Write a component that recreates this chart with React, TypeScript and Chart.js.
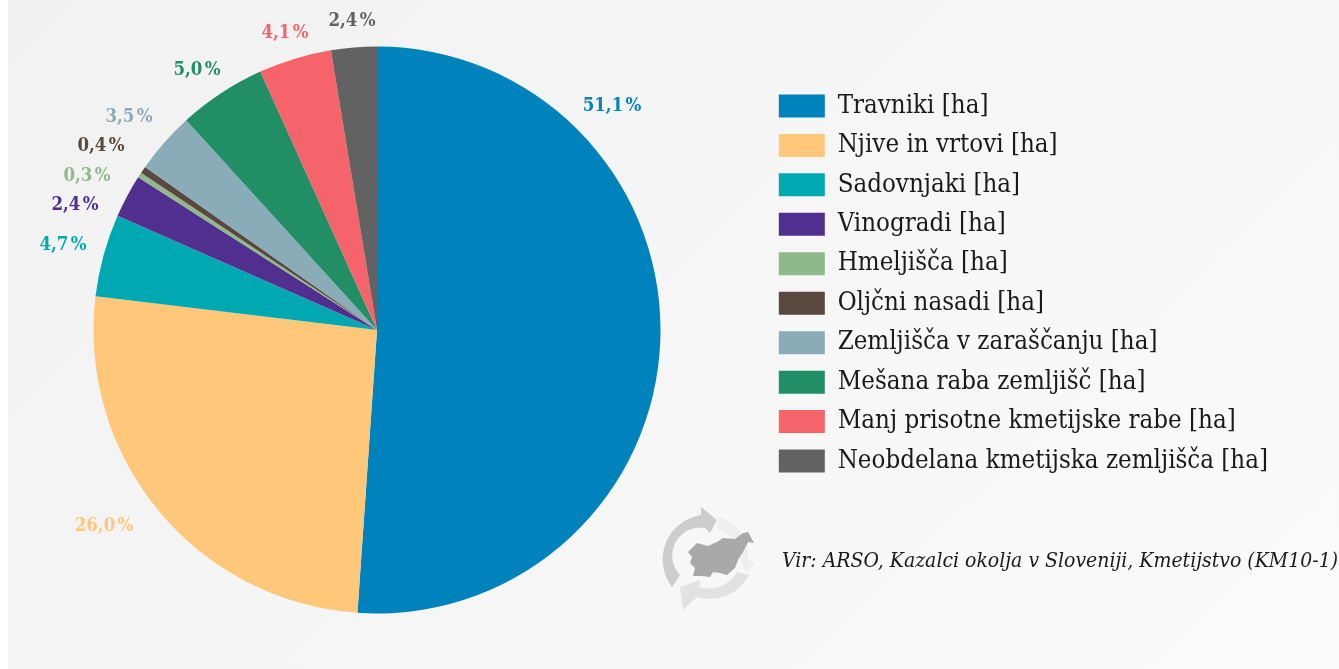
import React, { useEffect, useRef } from "react";
import { Chart, registerables } from "chart.js";

Chart.register(...registerables);

const categories = [
  "Travniki [ha]",
  "Njive in vrtovi [ha]",
  "Sadovnjaki [ha]",
  "Vinogradi [ha]",
  "Hmeljišča [ha]",
  "Oljčni nasadi [ha]",
  "Zemljišča v zaraščanju [ha]",
  "Mešana raba zemljišč [ha]",
  "Manj prisotne kmetijske rabe [ha]",
  "Neobdelana kmetijska zemljišča [ha]",
];
const shares = [51.1, 25.8, 4.7, 2.45, 0.3, 0.4, 3.5, 5.0, 4.15, 2.6];
const shareLabels = ["51,1 %", "26,0 %", "4,7 %", "2,4 %", "0,3 %", "0,4 %", "3,5 %", "5,0 %", "4,1 %", "2,4 %"];
const colors = ["#0082bd", "#fec779", "#00a9b2", "#512f8f", "#8fb98a", "#5a473d", "#8aabb8", "#218e66", "#f5636b", "#626262"];
const labelAnchors = [
  [612, 106], [104, 526], [63, 245], [75, 205], [87, 176],
  [101, 146], [129, 117], [197, 70], [285, 33], [352, 21],
];

const sourceText = "Vir: ARSO, Kazalci okolja v Sloveniji, Kmetijstvo (KM10-1)";

const canvasShift = 11;

const labelPlugin = {
  id: "shareLabels",
  afterDatasetsDraw(chart: any) {
    const ctx = chart.ctx;
    ctx.save();
    ctx.translate(canvasShift, 0);
    ctx.font = 'bold 18.5px "DejaVu Serif Condensed"';
    ctx.wordSpacing = "-3.5px";
    ctx.textAlign = "center";
    ctx.textBaseline = "middle";
    shareLabels.forEach((t, i) => {
      ctx.fillStyle = colors[i];
      ctx.fillText(t, labelAnchors[i][0], labelAnchors[i][1]);
    });
    ctx.restore();
  },
};

function Logo() {
  return (
    <svg
      width={110}
      height={120}
      viewBox="0 0 110 120"
      style={{ position: "absolute", left: 655, top: 500 }}
    >
      <path d="M17 87 A45 45 0 0 1 46 15 L46 7 L62 20 L55 33 L50 28 A28 28 0 0 0 25 75 Z" fill="#cdcdcd" />
      <path d="M64 17 A40 40 0 0 1 93 60 L100 63 L91 72 L84 56 L87 59 A32 32 0 0 0 62 30 Z" fill="#eeeeee" />
      <path d="M94 75 A44 44 0 0 1 42 97 L28 110 L25 87 L45 80 L44 87 A32 32 0 0 0 82 72 Z" fill="#e2e2e2" />
      <path d="M33 52 L42 43 L53 46 L62 42 L68 38 L80 39 L88 33 L93 32 L99 43 L93 42 L88 52 L83 60 L80 68 L72 75 L65 73 L58 72 L55 77 L47 76 L38 76 L40 68 L35 63 L37 57 Z" fill="#a9a9a9" />
    </svg>
  );
}

export default function App() {
  const ref = useRef<HTMLCanvasElement>(null);
  useEffect(() => {
    document.body.style.margin = "0";
    const chart = new Chart(ref.current!, {
      type: "pie",
      data: {
        labels: categories,
        datasets: [
          {
            data: shares,
            backgroundColor: colors,
            borderWidth: 0,
            radius: 283.5,
          },
        ],
      },
      plugins: [labelPlugin],
      options: {
        animation: false,
        responsive: false,
        layout: { padding: { left: 0, right: 61, top: 0, bottom: 9 } },
        plugins: {
          tooltip: { enabled: false },
          legend: {
            display: true,
            position: "right",
            align: "start",
            title: { display: true, text: "", padding: { top: 64.9, bottom: 0 }, font: { size: 12 } },
            labels: {
              boxWidth: 46,
              boxHeight: 23,
              padding: 13.8,
              color: "#1a1a1a",
              font: { family: '"DejaVu Serif Condensed"', size: 25.66 },
            },
          },
        },
      },
    } as any);
    return () => chart.destroy();
  }, []);
  return (
    <div style={{ position: "relative", width: 1339, height: 669, overflow: "hidden", background: "#fff" }}>
      <div
        style={{
          position: "absolute",
          left: 8,
          top: 0,
          right: 0,
          bottom: 0,
          background: "linear-gradient(135deg, #f1f1f1 0%, #fbfbfb 100%)",
        }}
      />
      <Logo />
      <canvas
        ref={ref}
        width={1339 + canvasShift}
        height={669}
        style={{ position: "absolute", left: -canvasShift, top: 0 }}
      />
      <div
        style={{
          position: "absolute",
          left: 782,
          top: 548,
          fontFamily: '"DejaVu Serif Condensed"',
          fontStyle: "italic",
          fontSize: 21,
          color: "#1a1a1a",
          whiteSpace: "nowrap",
        }}
      >
        {sourceText}
      </div>
    </div>
  );
}
